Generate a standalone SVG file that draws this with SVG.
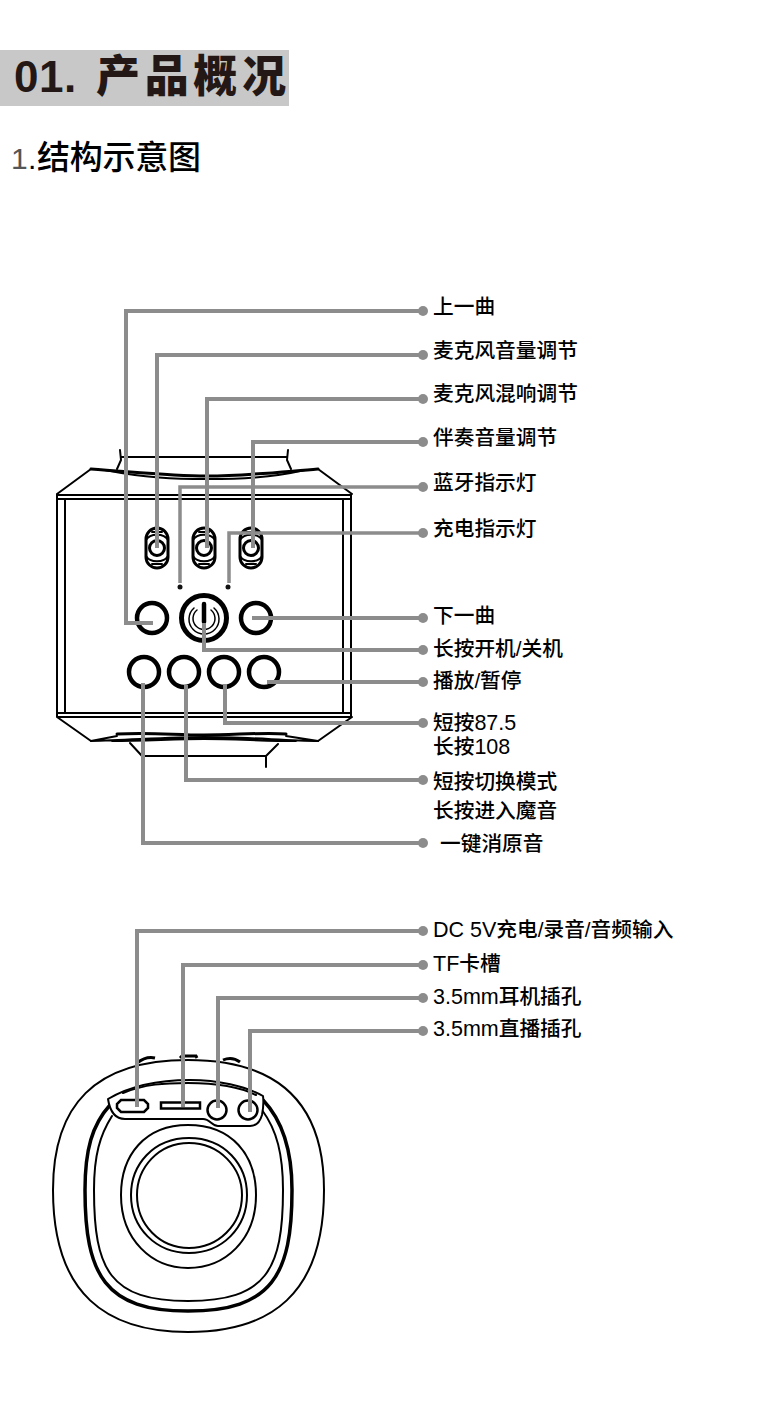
<svg xmlns="http://www.w3.org/2000/svg" width="781" height="1416" viewBox="0 0 781 1416">
<style>
text{font-family:"Liberation Sans","Noto Sans CJK SC",sans-serif;fill:#000}
.l{font-size:20.7px;font-weight:500}
.n{font-size:21.500px}
.o{fill:none;stroke:#000;stroke-width:2;stroke-linejoin:round;stroke-linecap:round}
.t{fill:none;stroke:#000;stroke-width:3;stroke-linecap:round}
.b{fill:none;stroke:#000;stroke-width:4.500}
.s{fill:none;stroke:#000;stroke-width:3}
.c{fill:none;stroke:#8c8c8c;stroke-width:4;stroke-linejoin:miter}
.d{fill:#8c8c8c}
</style>
<rect width="781" height="1416" fill="#fff"/>
<g id="title">
<rect x="0" y="50" width="289" height="56" fill="#c8c8c8"/>
<text x="14" y="92" font-size="44" font-weight="700" letter-spacing="0.500" style="fill:#231815">01.</text>
<text x="96" y="92" style="fill:#231815;font-family:'Noto Sans CJK SC',sans-serif;font-weight:900;font-size:44px" textLength="190">产品概况</text>
</g>
<g id="subtitle">
<text x="11" y="169" font-size="30" style="fill:#555">1</text>
<text x="28" y="169" font-size="30">.</text>
<text x="37" y="169" font-size="33" font-weight="500" textLength="164">结构示意图</text>
</g>
<g id="top-view">
<path class="o" d="M57,494L91,469M318,469L352,494M57,494V717M351,494V717M65,499V713M343,499V713M57,495H351M57,499H351M57,713H351M57,717H351M57,717L91,741M318,741L352,717"/>
<path class="o" d="M120,450L121,460L117,469M288,450L287,460L291,469M121,457H287"/>
<path class="t" d="M91,469C135,472 170,476 207,476C245,476 280,472 318,469"/>
<path class="o" d="M105,470C145,478 175,479 207,479C240,479 270,478 305,470"/>
<path class="t" d="M117,734C150,732 175,735 204,735C235,735 265,732 286,734"/>
<path class="o" d="M91,741L117,736M318,741L286,736M91,741C130,740 170,737 204,737C240,737 280,740 318,741M112,741C145,741 175,739 204,739C235,739 265,741 296,741M130,743L142,756V767M278,744L266,756V767M142,756H266"/>
</g>
<g id="switch-1"><rect class="s" x="146" y="528" width="22" height="40" rx="11"/><circle class="s" cx="157" cy="548" r="7.500"/><path class="o" d="M146,540C150,533 164,533 168,540M146,556C150,563 164,563 168,556M152,532H162M152,564H162"/></g>
<g id="switch-2"><rect class="s" x="193" y="528" width="22" height="40" rx="11"/><circle class="s" cx="204" cy="548" r="7.500"/><path class="o" d="M193,540C197,533 211,533 215,540M193,556C197,563 211,563 215,556M199,532H209M199,564H209"/></g>
<g id="switch-3"><rect class="s" x="240" y="528" width="22" height="40" rx="11"/><circle class="s" cx="251" cy="548" r="7.500"/><path class="o" d="M240,540C244,533 258,533 262,540M240,556C244,563 258,563 262,556M246,532H256M246,564H256"/></g>
<g id="led-1"><circle cx="180" cy="587" r="2.500" fill="#111"/></g>
<g id="led-2"><circle cx="228" cy="587" r="2.500" fill="#111"/></g>
<g id="btn-prev"><circle class="b" cx="152" cy="618" r="15"/></g>
<g id="btn-power"><circle cx="204" cy="618" r="22.500" fill="none" stroke="#000" stroke-width="5"/><path class="o" d="M194,608A15,15 0 1 0 214,608" style="stroke-width:1.500"/><path class="o" d="M197,610A11,11 0 1 0 211,610" style="stroke-width:1.500"/><path d="M204,604V622" stroke="#000" stroke-width="4.500" stroke-linecap="round"/></g>
<g id="btn-next"><circle class="b" cx="256" cy="618" r="15"/></g>
<g id="btn-a"><circle class="b" cx="144" cy="672" r="15"/></g>
<g id="btn-b"><circle class="b" cx="184" cy="672" r="15"/></g>
<g id="btn-c"><circle class="b" cx="224" cy="672" r="15"/></g>
<g id="btn-d"><circle class="b" cx="264" cy="672" r="15"/></g>
<g id="bottom-view">
<path class="o" d="M188,1060C281,1060 324,1105 324,1190C324,1295 270,1332 188,1332C107,1332 53,1295 53,1190C53,1105 95,1060 188,1060Z"/>
<path fill="none" stroke="#000" stroke-width="3" d="M137,1063Q146,1056 155,1058M180,1058L182,1056H196L197,1058M223,1060Q232,1056 240,1062"/>
<path fill="none" stroke="#000" stroke-width="3.500" d="M110,1105C92,1125 85,1150 85,1190C85,1275 105,1311 188,1311C272,1311 292,1275 292,1190C292,1150 282,1120 263,1100"/>
<path class="o" d="M112,1116C100,1135 94,1155 94,1190C94,1270 110,1301 188,1301C266,1301 283,1270 283,1190C283,1155 277,1130 262,1110"/>
<path d="M108,1099C130,1086 160,1080 190,1080C218,1080 245,1086 263,1096C264,1104 263,1110 262,1115C260,1122 257,1126 250,1126H218C212,1126 210,1119 203,1119H125C115,1119 110,1112 108,1099Z" fill="#fff" stroke="#000" stroke-width="2" stroke-linejoin="round"/>
<path class="o" d="M123,1093C145,1084 165,1083 188,1083C215,1083 240,1087 256,1095"/>
<path d="M121,1100H144L148,1104V1108L144,1112H121L117,1108V1104Z" fill="none" stroke="#000" stroke-width="2.500"/>
<rect x="161" y="1102.500" width="39" height="6" fill="none" stroke="#000" stroke-width="2.500"/>
<circle cx="217" cy="1110" r="9.500" fill="none" stroke="#000" stroke-width="2.500"/>
<circle cx="248" cy="1110" r="9.500" fill="none" stroke="#000" stroke-width="2.500"/>
<path class="o" d="M188,1125C232,1125 256,1155 256,1195C256,1240 225,1268 188,1268C152,1268 121,1240 121,1195C121,1155 145,1125 188,1125Z"/>
<path class="o" d="M189,1138C225,1138 247,1165 247,1195C247,1228 222,1253 189,1253C156,1253 131,1228 131,1195C131,1165 153,1138 189,1138Z"/>
<path class="o" d="M189,1143C220,1143 242,1168 242,1195C242,1225 218,1248 189,1248C160,1248 137,1225 137,1195C137,1168 158,1143 189,1143Z"/>
</g>
<g id="connectors">
<path class="c" d="M423,311H126V623H153"/>
<path class="c" d="M423,355H157V548"/>
<path class="c" d="M423,399H207V548"/>
<path class="c" d="M423,442H253V548"/>
<path class="c" d="M423,487H180V583" style="stroke-width:3.500"/>
<path class="c" d="M423,533H229V583" style="stroke-width:3.500"/>
<path class="c" d="M423,618H252"/>
<path class="c" d="M423,650H204V623"/>
<path class="c" d="M423,682H267"/>
<path class="c" d="M423,723H225V684"/>
<path class="c" d="M423,780H186V685"/>
<path class="c" d="M423,843H143V683"/>
<path class="c" d="M423,931H137V1107"/>
<path class="c" d="M423,965H183V1107"/>
<path class="c" d="M423,998H218V1108"/>
<path class="c" d="M423,1031H250V1112"/>
<circle class="d" cx="423" cy="311" r="5"/><circle class="d" cx="423" cy="355" r="5"/><circle class="d" cx="423" cy="399" r="5"/><circle class="d" cx="423" cy="442" r="5"/><circle class="d" cx="423" cy="487" r="5"/><circle class="d" cx="423" cy="533" r="5"/><circle class="d" cx="423" cy="618" r="5"/><circle class="d" cx="423" cy="650" r="5"/><circle class="d" cx="423" cy="682" r="5"/><circle class="d" cx="423" cy="723" r="5"/><circle class="d" cx="423" cy="780" r="5"/><circle class="d" cx="423" cy="843" r="5"/><circle class="d" cx="423" cy="931" r="5"/><circle class="d" cx="423" cy="965" r="5"/><circle class="d" cx="423" cy="998" r="5"/><circle class="d" cx="423" cy="1031" r="5"/>
</g>
<g id="labels">
<text class="l" x="433" y="314">上一曲</text>
<text class="l" x="433" y="358">麦克风音量调节</text>
<text class="l" x="433" y="401">麦克风混响调节</text>
<text class="l" x="433" y="445">伴奏音量调节</text>
<text class="l" x="433" y="490">蓝牙指示灯</text>
<text class="l" x="433" y="536">充电指示灯</text>
<text class="l" x="433" y="623">下一曲</text>
<text class="l" x="433" y="656">长按开机/关机</text>
<text class="l" x="433" y="688">播放/暂停</text>
<text class="l" x="433" y="730">短按<tspan class="n">87.5</tspan></text>
<text class="l" x="433" y="754">长按<tspan class="n">108</tspan></text>
<text class="l" x="433" y="789">短按切换模式</text>
<text class="l" x="433" y="818">长按进入魔音</text>
<text class="l" x="440" y="851">一键消原音</text>
<text class="l" x="433" y="937"><tspan class="n">DC 5V</tspan>充电/录音/音频输入</text>
<text class="l" x="433" y="971"><tspan class="n">TF</tspan>卡槽</text>
<text class="l" x="433" y="1004"><tspan class="n">3.5mm</tspan>耳机插孔</text>
<text class="l" x="433" y="1036"><tspan class="n">3.5mm</tspan>直播插孔</text>
</g>
</svg>
